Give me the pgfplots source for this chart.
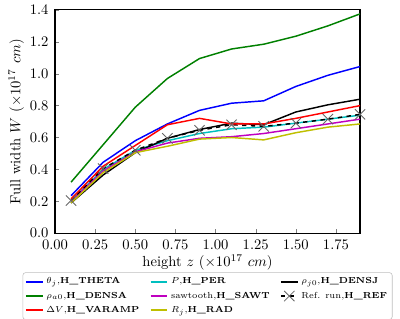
\documentclass[border=0pt]{standalone}
\usepackage{pgfplots}
\usetikzlibrary{calc}
\pgfplotsset{compat=1.18}
\definecolor{mgreen}{RGB}{0,128,0}
\definecolor{mcyan}{RGB}{0,191,191}
\definecolor{mmag}{RGB}{191,0,191}
\definecolor{myel}{RGB}{191,191,0}
\begin{document}
\begin{tikzpicture}
\begin{axis}[
  scale only axis,
  width=209pt, height=153pt,
  xmin=0, xmax=1.9, ymin=0, ymax=1.4,
  xtick={0,0.25,0.5,0.75,1,1.25,1.5,1.75},
  ytick={0,0.2,0.4,0.6,0.8,1.0,1.2,1.4},
  xticklabel style={/pgf/number format/fixed,/pgf/number format/fixed zerofill,/pgf/number format/precision=2, yshift=-1pt},
  yticklabel style={/pgf/number format/fixed,/pgf/number format/fixed zerofill,/pgf/number format/precision=1, xshift=-1pt},
  tick align=inside,
  xtick pos=bottom, ytick pos=left,
  major tick length=3pt,
  axis line style={line width=0.8pt},
  xlabel={height $z$ ($\times10^{17}$ $cm$)},
  ylabel={Full width $W$ ($\times10^{17}$ $cm$)},
  xlabel style={yshift=3pt},
  ylabel style={yshift=-3pt},
  legend columns=3,
  legend style={at={(0.5,-0.175)}, anchor=north, font=\fontsize{6}{7}\selectfont, draw=black!25, rounded corners=2pt, /tikz/every even column/.append style={column sep=5pt}, inner sep=1.5pt},
  legend cell align=left,
  legend image code/.code={\draw[mark repeat=2,mark phase=2] plot coordinates {(0cm,0cm) (0.2cm,0cm) (0.4cm,0cm)};},
  legend image post style={line width=1.3pt},
  every axis plot/.append style={line width=1pt},
]
\addplot[blue] coordinates {(0.1,0.235) (0.3,0.445) (0.5,0.58) (0.7,0.685) (0.9,0.77) (1.1,0.815) (1.3,0.83) (1.5,0.92) (1.7,0.99) (1.9,1.045)};
\addlegendentry{$\theta_j$,\textbf{H\_THETA}}
\addplot[mcyan] coordinates {(0.1,0.205) (0.3,0.40) (0.5,0.52) (0.7,0.58) (0.9,0.625) (1.1,0.655) (1.3,0.665) (1.5,0.69) (1.7,0.715) (1.9,0.74)};
\addlegendentry{$P$,\textbf{H\_PER}}
\addplot[black] coordinates {(0.1,0.19) (0.3,0.365) (0.5,0.505) (0.7,0.595) (0.9,0.65) (1.1,0.69) (1.3,0.68) (1.5,0.76) (1.7,0.805) (1.9,0.84)};
\addlegendentry{$\rho_{j0}$,\textbf{H\_DENSJ}}
\addplot[mgreen] coordinates {(0.1,0.32) (0.3,0.555) (0.5,0.79) (0.7,0.97) (0.9,1.095) (1.1,1.155) (1.3,1.185) (1.5,1.235) (1.7,1.30) (1.9,1.375)};
\addlegendentry{$\rho_{a0}$,\textbf{H\_DENSA}}
\addplot[mmag] coordinates {(0.1,0.20) (0.3,0.39) (0.5,0.51) (0.7,0.565) (0.9,0.595) (1.1,0.605) (1.3,0.625) (1.5,0.655) (1.7,0.685) (1.9,0.715)};
\addlegendentry{sawtooth,\textbf{H\_SAWT}}
\addplot[black, dashed, mark=x, mark size=5pt, mark options={solid, draw=black!60, line width=0.6pt}] coordinates {(0.1,0.205) (0.3,0.405) (0.5,0.52) (0.7,0.595) (0.9,0.645) (1.1,0.68) (1.3,0.67) (1.5,0.69) (1.7,0.715) (1.9,0.745)};
\addlegendentry{Ref. run,\textbf{H\_REF}}
\addplot[red] coordinates {(0.1,0.215) (0.3,0.42) (0.5,0.55) (0.7,0.68) (0.9,0.72) (1.1,0.685) (1.3,0.685) (1.5,0.72) (1.7,0.76) (1.9,0.80)};
\addlegendentry{$\Delta V$,\textbf{H\_VARAMP}}
\addplot[myel] coordinates {(0.1,0.19) (0.3,0.38) (0.5,0.505) (0.7,0.545) (0.9,0.59) (1.1,0.60) (1.3,0.585) (1.5,0.63) (1.7,0.665) (1.9,0.685)};
\addlegendentry{$R_j$,\textbf{H\_RAD}}
\coordinate (LL) at (rel axis cs:0,0);
\coordinate (UR) at (rel axis cs:1,1);
\end{axis}
\pgfresetboundingbox
\useasboundingbox ($(LL)+(-37.7pt,-58.2pt)$) rectangle ($(UR)+(27.4pt,6.8pt)$);
\end{tikzpicture}
\end{document}
